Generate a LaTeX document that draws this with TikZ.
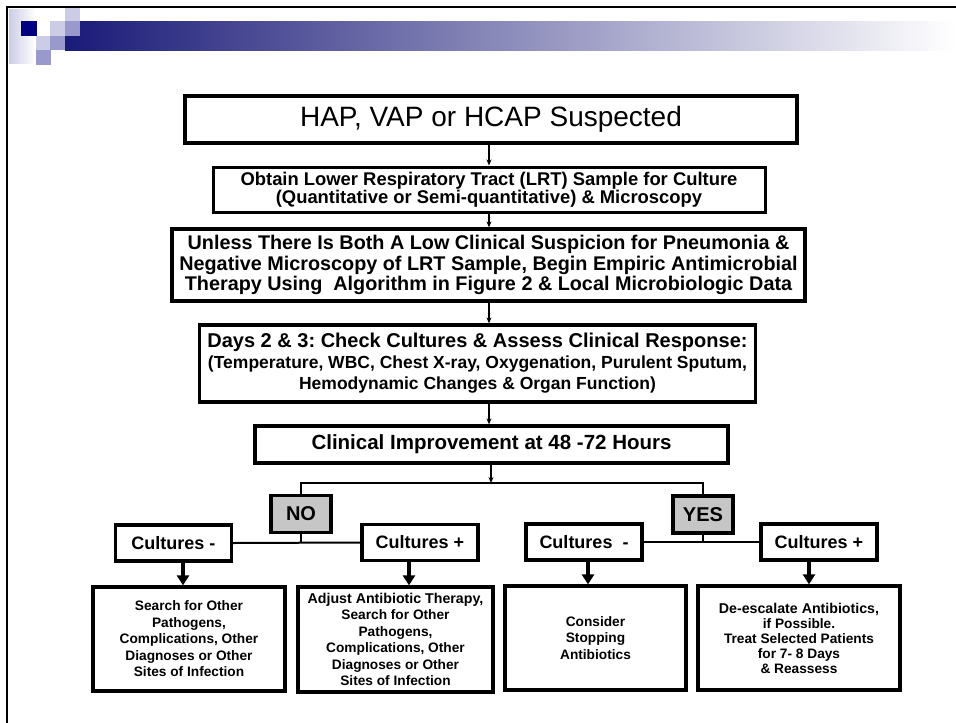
\documentclass[tikz,border=0pt]{standalone}
\usepackage{fontspec}
\setmainfont{Liberation Sans}
\usetikzlibrary{arrows.meta}
\frenchspacing

\definecolor{navy}{RGB}{0,0,128}
\definecolor{lightblue}{RGB}{204,204,230}
\definecolor{midblue}{RGB}{153,153,204}
\definecolor{bardark}{RGB}{26,26,120}
\definecolor{barmid}{RGB}{172,172,198}
\definecolor{boxgray}{RGB}{198,198,198}

\newcommand{\setfs}[2]{\fontsize{#1}{#2}\selectfont}

\tikzset{
  stepbox/.style={draw, line width=3.3pt, align=center, inner sep=1pt, font=\bfseries},
  decision/.style={stepbox, fill=boxgray, minimum width=60pt, minimum height=37pt, font=\bfseries\setfs{20}{22}},
  culture/.style={stepbox, minimum width=116pt, minimum height=36pt, font=\bfseries\setfs{18}{20}},
  action/.style={stepbox, minimum height=104pt, font=\bfseries\setfs{13.7}{16.5}},
  flow/.style={-{Stealth[length=6pt,width=5pt]}, line width=1.4pt},
  link/.style={line width=2pt},
  bigflow/.style={-{Triangle[length=10pt,width=12pt]}, line width=3.2pt},
}

\begin{document}
\begin{tikzpicture}[x=1pt,y=-1pt]
  \useasboundingbox (0,0) rectangle (956,723);
  % slide header
  \shade[left color=lightblue, right color=white] (9,9) rectangle (35,63);
  \shade[left color=bardark, middle color=barmid, right color=white] (65,21) rectangle (956,50);
  \fill[navy] (21,21) rectangle (37,36);
  \fill[lightblue] (65,8) rectangle (80,21);
  \fill[lightblue] (50,21) rectangle (65,36);
  \fill[midblue] (65,21) rectangle (80,36);
  \fill[lightblue] (36,36) rectangle (50,50);
  \fill[midblue] (50,36) rectangle (65,50);
  \fill[midblue] (36,50) rectangle (51,65);
  \draw[line width=2.8pt] (7,723) -- (7,7) -- (956,7);

  % main column
  \node[stepbox, font=\setfs{28}{30}, minimum width=612pt, minimum height=47pt] (hap) at (491,119.5) {HAP, VAP or HCAP Suspected};
  \node[stepbox, line width=3pt, font=\bfseries\setfs{18.4}{14.5}, minimum width=552pt, minimum height=45pt] (lrt) at (489,189.5)
    {Obtain Lower Respiratory Tract (LRT) Sample for Culture\\(Quantitative or Semi-quantitative) \& Microscopy};
  \node[stepbox, font=\bfseries\setfs{19.8}{20.5}, minimum width=633pt, minimum height=72pt] (empiric) at (488.5,265)
    {Unless There Is Both A Low Clinical Suspicion for Pneumonia \&\\Negative Microscopy of LRT Sample, Begin Empiric Antimicrobial\\Therapy Using\ \ Algorithm in Figure 2 \& Local Microbiologic Data};
  \node[stepbox, font=\bfseries\setfs{17.5}{21}, minimum width=556pt, minimum height=77pt] (check) at (477.5,363.5)
    {{\setfs{20}{24}Days 2 \& 3: Check Cultures \& Assess Clinical Response:}\\(Temperature, WBC, Chest X-ray, Oxygenation, Purulent Sputum,\\Hemodynamic Changes \& Organ Function)};
  \node[stepbox, font=\bfseries\setfs{20.5}{22}, minimum width=473pt, minimum height=37pt] (improve) at (491.5,444.5) {Clinical Improvement at 48 -72 Hours};

  \coordinate (spine) at (489,0);
  \coordinate (split) at (491,483);
  \draw[flow] (hap.south -| spine) -- (lrt.north -| spine);
  \draw[flow] (lrt.south -| spine) -- (empiric.north -| spine);
  \draw[flow] (empiric.south -| spine) -- (check.north -| spine);
  \draw[flow] (check.south -| spine) -- (improve.north -| spine);
  \draw[flow] (improve.south -| split) -- (split);

  % no / yes branches
  \node[decision] (no) at (301,514) {NO};
  \node[decision] (yes) at (703,514.5) {YES};
  \draw[line width=1.5pt] (no.north) |- (split) -| (yes.north);

  \node[culture] (culnegA) at (173.5,543) {Cultures -};
  \node[culture] (culposA) at (420,542.5) {Cultures +};
  \node[culture] (culnegB) at (584,542) {Cultures\ \ -};
  \node[culture] (culposB) at (819,542) {Cultures +};
  \draw[link] (culnegA.east) -- (culposA.west);
  \draw[link] (culnegB.east) -- (culposB.west);
  \draw[link] (no.south) -- (no.south |- culnegA.east);
  \draw[link] (yes.south) -- (yes.south |- culnegB.east);

  \node[action, minimum width=192pt] (searchA) at (189,639)
    {Search for Other\\Pathogens,\\Complications, Other\\Diagnoses or Other\\Sites of Infection};
  \node[action, minimum width=195pt, minimum height=105pt] (adjustA) at (395.5,639.5)
    {{\setfs{14.2}{17}Adjust Antibiotic Therapy,}\\Search for Other\\Pathogens,\\Complications, Other\\Diagnoses or Other\\Sites of Infection};
  \node[action, minimum width=181pt] (stopB) at (595.5,638)
    {Consider\\Stopping\\Antibiotics};
  \node[action, minimum width=202pt, font=\bfseries\setfs{13.7}{15}] (deesc) at (799,638)
    {{\setfs{14.2}{16}De-escalate Antibiotics,}\\if Possible.\\Treat Selected Patients\\for 7- 8 Days\\\& Reassess};

  \draw[bigflow] ([xshift=9.5pt]culnegA.south) -- ([xshift=9.5pt]culnegA.south |- searchA.north);
  \draw[bigflow] ([xshift=-11pt]culposA.south) -- ([xshift=-11pt]culposA.south |- adjustA.north);
  \draw[bigflow] ([xshift=4pt]culnegB.south) -- ([xshift=4pt]culnegB.south |- stopB.north);
  \draw[bigflow] ([xshift=-10pt]culposB.south) -- ([xshift=-10pt]culposB.south |- deesc.north);
\end{tikzpicture}
\end{document}
